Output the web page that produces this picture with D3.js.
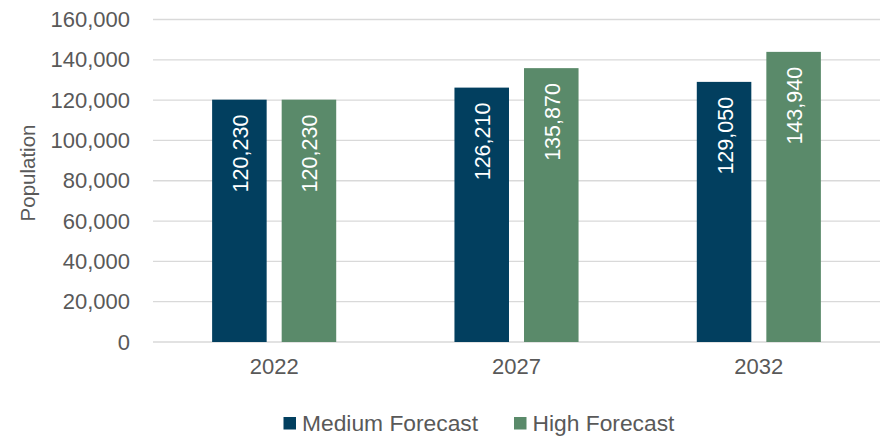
<!DOCTYPE html>
<html>
<head>
<script src="https://d3js.org/d3.v7.min.js"></script>
<style>
body { margin: 0; background: #fff; }
text { font-family: "Liberation Sans", Arial, sans-serif; }
</style>
</head>
<body>
<script>
// data
var years = ["2022", "2027", "2032"];
var seriesNames = ["Medium Forecast", "High Forecast"];
var mediumValues = [120230, 126210, 129050];
var highValues = [120230, 135870, 143940];
var yTicks = [0, 20000, 40000, 60000, 80000, 100000, 120000, 140000, 160000];

var colors = ["#023f5f", "#5a8a6a"];
var textColor = "#595959";

var W = 886, H = 436;
var margin = {top: 19.5, right: 6, bottom: 94, left: 153};
var width = W - margin.left - margin.right,
    height = H - margin.top - margin.bottom;

var svg = d3.select("body").append("svg")
    .attr("width", W)
    .attr("height", H);

var g = svg.append("g")
    .attr("transform", "translate(" + margin.left + "," + margin.top + ")");

var x0 = d3.scaleBand().domain(years).range([0, width]).padding(0);
var x1 = d3.scaleBand().domain(seriesNames)
    .range([0, x0.bandwidth()])
    .paddingInner(0.216)
    .paddingOuter(0.85);
var y = d3.scaleLinear().domain([0, 160000]).range([height, 0]);

// gridlines
g.selectAll(".grid")
    .data(yTicks)
  .enter().append("line")
    .attr("class", "grid")
    .attr("x1", 0)
    .attr("x2", width)
    .attr("y1", function(d) { return y(d); })
    .attr("y2", function(d) { return y(d); })
    .attr("stroke", "#d9d9d9")
    .attr("stroke-width", 1.3);

// y axis labels
var yAxis = d3.axisLeft(y).tickValues(yTicks).tickSize(0).tickPadding(23)
    .tickFormat(d3.format(","));
g.append("g")
    .call(yAxis)
    .call(function(a) { a.select(".domain").remove(); })
    .selectAll("text")
    .style("font-size", "22px")
    .attr("fill", textColor);

// x axis labels
var xAxis = d3.axisBottom(x0).tickSize(0).tickPadding(16);
g.append("g")
    .attr("transform", "translate(0," + height + ")")
    .call(xAxis)
    .call(function(a) { a.select(".domain").remove(); })
    .selectAll("text")
    .style("font-size", "22px")
    .attr("fill", textColor);

// bars
var rows = years.map(function(yr, i) {
  return {year: yr, vals: [
    {name: seriesNames[0], value: mediumValues[i], c: colors[0]},
    {name: seriesNames[1], value: highValues[i], c: colors[1]}
  ]};
});

var groups = g.selectAll(".grp")
    .data(rows)
  .enter().append("g")
    .attr("class", "grp")
    .attr("transform", function(d) { return "translate(" + x0(d.year) + ",0)"; });

groups.selectAll("rect")
    .data(function(d) { return d.vals; })
  .enter().append("rect")
    .attr("x", function(d) { return x1(d.name); })
    .attr("width", x1.bandwidth())
    .attr("y", function(d) { return y(d.value); })
    .attr("height", function(d) { return height - y(d.value); })
    .attr("fill", function(d) { return d.c; });

// value labels, rotated, inside end
groups.selectAll(".lbl")
    .data(function(d) { return d.vals; })
  .enter().append("text")
    .attr("class", "lbl")
    .attr("transform", function(d) {
      var cx = x1(d.name) + x1.bandwidth() / 2 + 1;
      var cy = y(d.value) + 15;
      return "translate(" + cx + "," + cy + ") rotate(-90)";
    })
    .attr("text-anchor", "end")
    .attr("dy", "0.35em")
    .style("font-size", "21.5px")
    .attr("fill", "#ffffff")
    .text(function(d) { return d3.format(",")(d.value); });

// y axis title
svg.append("text")
    .attr("transform", "translate(28," + 173 + ") rotate(-90)")
    .attr("text-anchor", "middle")
    .attr("dy", "0.35em")
    .style("font-size", "20.5px")
    .attr("fill", textColor)
    .text("Population");

// legend
var legendX = [283.5, 514];
var legend = svg.selectAll(".legend")
    .data(seriesNames)
  .enter().append("g")
    .attr("class", "legend")
    .attr("transform", function(d, i) { return "translate(" + legendX[i] + ",417)"; });

legend.append("rect")
    .attr("width", 12.5)
    .attr("height", 12.5)
    .attr("fill", function(d, i) { return colors[i]; });

legend.append("text")
    .attr("x", 18.5)
    .attr("y", 6.5)
    .attr("dy", "0.35em")
    .style("font-size", "22.8px")
    .attr("fill", textColor)
    .text(function(d) { return d; });
</script>
</body>
</html>
